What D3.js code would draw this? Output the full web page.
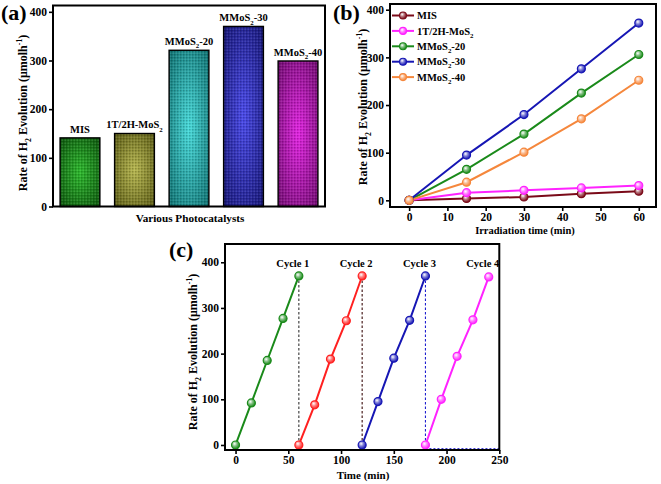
<!DOCTYPE html>
<html>
<head>
<meta charset="utf-8">
<script src="https://cdn.jsdelivr.net/npm/d3@7"></script>
<style>
html,body{margin:0;padding:0;background:#fff;}
svg{display:block;}
text{font-family:"Liberation Serif","Times New Roman",serif;font-weight:bold;fill:#000;}
</style>
</head>
<body>
<svg id="chart" width="661" height="484"></svg>
<script>
// ---------- DATA ----------
const barCategories = ["MIS", "1T/2H-MoS_2", "MMoS_2-20", "MMoS_2-30", "MMoS_2-40"];
const barValues = [141, 150, 321, 370, 299];
const barColorsCenter = ["#2dbb2d", "#b8b850", "#48dcdc", "#4a4aec", "#e424e4"];
const barColorsEdge = ["#0a4e0a", "#55550f", "#0a6a6a", "#12126e", "#6a0a6a"];

const timeB = [0, 15, 30, 45, 60];
const seriesNamesB = ["MIS", "1T/2H-MoS_2", "MMoS_2-20", "MMoS_2-30", "MMoS_2-40"];
const misB = [0, 4, 7, 14, 19];
const mos2B = [0, 16, 21, 26, 31];
const m20B = [0, 65, 139, 225, 306];
const m30B = [0, 95, 180, 276, 372];
const m40B = [0, 38, 101, 171, 252];
const seriesColorsB = ["#7a0a18", "#ff22ff", "#1a8a1a", "#1616b4", "#f5873c"];

const cycleNames = ["Cycle 1", "Cycle 2", "Cycle 3", "Cycle 4"];
const cycle1T = [0, 15, 30, 45, 60],    cycle1V = [0, 92, 185, 277, 370];
const cycle2T = [60, 75, 90, 105, 120], cycle2V = [0, 88, 188, 272, 370];
const cycle3T = [120, 135, 150, 165, 180], cycle3V = [0, 95, 190, 273, 370];
const cycle4T = [180, 195, 210, 225, 240], cycle4V = [0, 100, 194, 274, 368];
const cycleColors = ["#1a8a1a", "#ff2020", "#1616b4", "#ff22ff"];
const dividerTimes = [60, 120, 180];
const dividerColors = ["#333333", "#3a0a0a", "#2020d0"];

const yTicksA = [0, 100, 200, 300, 400];
const yTicksB = [0, 100, 200, 300, 400];
const xTicksB = [0, 10, 20, 30, 40, 50, 60];
const yTicksC = [0, 100, 200, 300, 400];
const xTicksC = [0, 50, 100, 150, 200, 250];

const yTitle = "Rate of H_2 Evolution (μmolh^{-1})";

// ---------- HELPERS ----------
const svg = d3.select("#chart");
svg.append("rect").attr("width", 661).attr("height", 484).attr("fill", "#fff");
const defs = svg.append("defs");

function parseRich(s) {
  const parts = [];
  const re = /_(\w)|\^\{([^}]*)\}/g;
  let last = 0, m;
  while ((m = re.exec(s)) !== null) {
    if (m.index > last) parts.push([s.slice(last, m.index), ""]);
    if (m[1] !== undefined) parts.push([m[1], "sub"]);
    else parts.push([m[2], "sup"]);
    last = re.lastIndex;
  }
  if (last < s.length) parts.push([s.slice(last), ""]);
  return parts;
}
function richText(sel, s, fs) {
  const parts = parseRich(s);
  let shift = 0;
  parts.forEach(([t, mode]) => {
    const ts = sel.append("tspan").text(t);
    let target = 0, size = fs;
    if (mode === "sub") { target = fs * 0.3; size = fs * 0.65; }
    if (mode === "sup") { target = -fs * 0.42; size = fs * 0.65; }
    ts.attr("font-size", size).attr("dy", target - shift);
    shift = target;
  });
  return sel;
}
function frame(x0, y0, x1, y1) {
  svg.append("rect").attr("x", x0).attr("y", y0).attr("width", x1 - x0).attr("height", y1 - y0)
    .attr("fill", "none").attr("stroke", "#000").attr("stroke-width", 2);
}
function styleAxis(g) {
  g.select(".domain").remove();
  g.selectAll(".tick line").attr("stroke", "#000").attr("stroke-width", 1.6);
  g.selectAll(".tick text").attr("font-size", 11.5).attr("font-family", "'Liberation Serif','Times New Roman',serif")
    .attr("font-weight", "bold").attr("fill", "#000");
}
function sphereGrad(id, color) {
  const g = defs.append("radialGradient").attr("id", id).attr("cx", "38%").attr("cy", "35%").attr("r", "65%");
  g.append("stop").attr("offset", "0%").attr("stop-color", "#fff");
  g.append("stop").attr("offset", "45%").attr("stop-color", d3.interpolateRgb(color, "#fff")(0.45));
  g.append("stop").attr("offset", "100%").attr("stop-color", color);
}
function panelLabel(t, x, y) {
  svg.append("text").attr("x", x).attr("y", y).attr("font-size", 22).text(t);
}
function yAxisTitle(x, y) {
  const t = svg.append("text").attr("transform", `translate(${x},${y}) rotate(-90)`)
    .attr("text-anchor", "middle").attr("font-size", 12);
  richText(t, yTitle, 12);
}

// texture pattern for bars
const pat = defs.append("pattern").attr("id", "tex").attr("width", 3).attr("height", 3).attr("patternUnits", "userSpaceOnUse");
pat.append("rect").attr("width", 1.5).attr("height", 1.5).attr("fill", "#000").attr("opacity", 0.22);
pat.append("rect").attr("x", 1.5).attr("y", 1.5).attr("width", 1.5).attr("height", 1.5).attr("fill", "#fff").attr("opacity", 0.12);

// ---------- PANEL (a) ----------
const xA = d3.scaleBand().domain(barCategories).range([53, 325]).paddingInner(0.27).paddingOuter(0.13);
const yA = d3.scaleLinear().domain([0, 413]).range([206.5, 5.5]);

barCategories.forEach((c, i) => {
  const g = defs.append("radialGradient").attr("id", "barg" + i).attr("cx", "50%").attr("cy", "50%").attr("r", "75%");
  g.append("stop").attr("offset", "0%").attr("stop-color", barColorsCenter[i]);
  g.append("stop").attr("offset", "100%").attr("stop-color", barColorsEdge[i]);
});
const bars = svg.append("g").selectAll("g").data(barCategories).join("g");
bars.append("rect")
  .attr("x", d => xA(d)).attr("y", (d, i) => yA(barValues[i]))
  .attr("width", xA.bandwidth()).attr("height", (d, i) => yA(0) - yA(barValues[i]))
  .attr("fill", (d, i) => `url(#barg${i})`);
bars.append("rect")
  .attr("x", d => xA(d)).attr("y", (d, i) => yA(barValues[i]))
  .attr("width", xA.bandwidth()).attr("height", (d, i) => yA(0) - yA(barValues[i]))
  .attr("fill", "url(#tex)").attr("stroke", "#000").attr("stroke-width", 1.4);
bars.each(function (d, i) {
  const t = d3.select(this).append("text").attr("x", xA(d) + xA.bandwidth() / 2).attr("y", yA(barValues[i]) - 5)
    .attr("text-anchor", "middle").attr("font-size", 10.5);
  richText(t, d, 10.5);
});
frame(53, 5.5, 325, 206.5);
svg.append("g").attr("transform", "translate(53,0)")
  .call(d3.axisLeft(yA).tickValues(yTicksA).tickSize(4).tickSizeOuter(0).tickPadding(2)).call(styleAxis);
svg.append("text").attr("x", 190).attr("y", 222).attr("text-anchor", "middle").attr("font-size", 11.2).text("Various Photocatalysts");
yAxisTitle(27, 113);
panelLabel("(a)", 1, 20);

// ---------- PANEL (b) ----------
const xB = d3.scaleLinear().domain([-5, 64.5]).range([390, 656]);
const yB = d3.scaleLinear().domain([-14, 412]).range([207, 4]);
const seriesB = [misB, mos2B, m20B, m30B, m40B];
seriesColorsB.forEach((c, i) => sphereGrad("sb" + i, c));
const lineB = d3.line().x((d, i) => xB(timeB[i])).y(d => yB(d));
seriesB.forEach((vals, si) => {
  svg.append("path").datum(vals).attr("d", lineB).attr("fill", "none")
    .attr("stroke", seriesColorsB[si]).attr("stroke-width", 2);
});
seriesB.forEach((vals, si) => {
  svg.append("g").selectAll("circle").data(vals).join("circle")
    .attr("cx", (d, i) => xB(timeB[i])).attr("cy", d => yB(d)).attr("r", 4)
    .attr("fill", `url(#sb${si})`).attr("stroke", seriesColorsB[si]).attr("stroke-width", 1.2);
});
frame(390, 4, 656, 207);
svg.append("g").attr("transform", "translate(390,0)")
  .call(d3.axisLeft(yB).tickValues(yTicksB).tickSize(4).tickSizeOuter(0).tickPadding(2)).call(styleAxis);
svg.append("g").attr("transform", "translate(0,207)")
  .call(d3.axisBottom(xB).tickValues(xTicksB).tickSize(4).tickSizeOuter(0).tickPadding(2)).call(styleAxis);
// legend
const legB = svg.append("g");
seriesNamesB.forEach((n, i) => {
  const y = 15.5 + i * 15.4;
  legB.append("line").attr("x1", 392).attr("x2", 414).attr("y1", y).attr("y2", y)
    .attr("stroke", seriesColorsB[i]).attr("stroke-width", 2);
  legB.append("circle").attr("cx", 403).attr("cy", y).attr("r", 3.5)
    .attr("fill", `url(#sb${i})`).attr("stroke", seriesColorsB[i]).attr("stroke-width", 1.1);
  const t = legB.append("text").attr("x", 417).attr("y", y + 3.6).attr("font-size", 10.5);
  richText(t, n, 10.5);
});
svg.append("text").attr("x", 525).attr("y", 234).attr("text-anchor", "middle").attr("font-size", 10.5).text("Irradiation time (min)");
yAxisTitle(367, 107);
panelLabel("(b)", 333, 20);

// ---------- PANEL (c) ----------
const xC = d3.scaleLinear().domain([-10, 250]).range([225, 499.3]);
const yC = d3.scaleLinear().domain([-11, 440]).range([450, 244]);
const cycT = [cycle1T, cycle2T, cycle3T, cycle4T];
const cycV = [cycle1V, cycle2V, cycle3V, cycle4V];
cycleColors.forEach((c, i) => sphereGrad("sc" + i, c));
// dashed dividers
dividerTimes.forEach((t, i) => {
  svg.append("line").attr("x1", xC(t)).attr("x2", xC(t)).attr("y1", yC(cycV[i][4])).attr("y2", yC(0))
    .attr("stroke", dividerColors[i]).attr("stroke-width", 1.1).attr("stroke-dasharray", "2.5,2");
});
svg.append("line").attr("x1", xC(180)).attr("x2", xC(250)).attr("y1", yC(-8)).attr("y2", yC(-8))
  .attr("stroke", "#2020d0").attr("stroke-width", 1).attr("stroke-dasharray", "2,2");
cycT.forEach((ts, ci) => {
  const ln = d3.line().x((d, i) => xC(ts[i])).y(d => yC(d));
  svg.append("path").datum(cycV[ci]).attr("d", ln).attr("fill", "none")
    .attr("stroke", cycleColors[ci]).attr("stroke-width", 2);
  svg.append("g").selectAll("circle").data(cycV[ci]).join("circle")
    .attr("cx", (d, i) => xC(ts[i])).attr("cy", d => yC(d)).attr("r", 4)
    .attr("fill", `url(#sc${ci})`).attr("stroke", cycleColors[ci]).attr("stroke-width", 1.2);
  svg.append("text").attr("x", xC(ts[4]) - 6).attr("y", 267).attr("text-anchor", "middle")
    .attr("font-size", 10.5).text(cycleNames[ci]);
});
frame(225, 244, 499.3, 450);
svg.append("g").attr("transform", "translate(225,0)")
  .call(d3.axisLeft(yC).tickValues(yTicksC).tickSize(4).tickSizeOuter(0).tickPadding(2)).call(styleAxis);
svg.append("g").attr("transform", "translate(0,450)")
  .call(d3.axisBottom(xC).tickValues(xTicksC).tickSize(4).tickSizeOuter(0).tickPadding(2)).call(styleAxis);
svg.append("text").attr("x", 363).attr("y", 479).attr("text-anchor", "middle").attr("font-size", 11).text("Time (min)");
yAxisTitle(197, 352);
panelLabel("(c)", 169, 257);
</script>
</body>
</html>
